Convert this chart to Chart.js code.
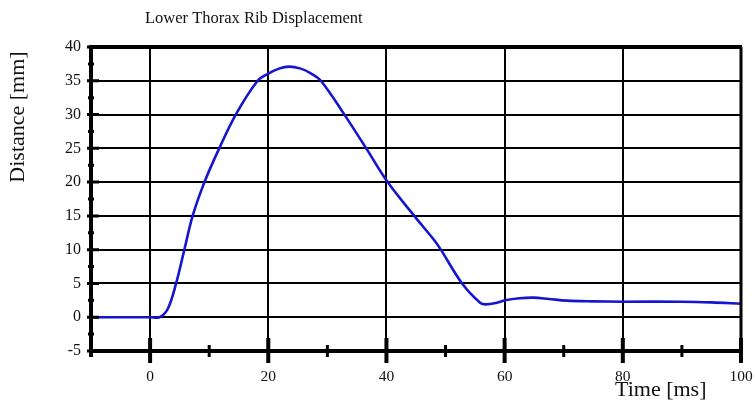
<!DOCTYPE html>
<html>
<head>
<meta charset="utf-8">
<script src="https://cdn.jsdelivr.net/npm/chart.js@4"></script>
<style>
  html, body { margin: 0; padding: 0; background: #fff; }
  #wrap { width: 755px; height: 402px; }
</style>
</head>
<body>
<div id="wrap"><canvas id="ribChart" width="755" height="402"></canvas></div>
<script>
// time [ms] and displacement [mm]
const timeMs = [-10, 0, 1.6, 3.0, 4.4, 5.8, 7.2, 9.2, 11.7, 14.5, 18.2, 20.0, 21.8, 23.5, 25.5, 27.2, 28.9, 32.8, 36.5, 40.2, 44.7, 48.0, 49.2, 52.8, 55.9, 56.8, 58.5, 60.1, 62.5, 64.9, 67.5, 70.5, 75, 80, 90, 95, 100];
const distMm = [0, 0, 0, 1.25, 5.0, 10.0, 15.0, 20.0, 25.0, 30.0, 35.0, 36.05, 36.8, 37.1, 36.8, 36.1, 35.0, 30.1, 25.1, 20.0, 15.0, 11.5, 10.0, 5.0, 2.1, 1.9, 2.1, 2.5, 2.8, 2.9, 2.7, 2.45, 2.35, 2.3, 2.3, 2.2, 2.0];

const xMajorTicks = [0, 20, 40, 60, 80, 100];
const xMinorTicks = [-10, 10, 30, 50, 70, 90];
const yTicks = [-5, 0, 5, 10, 15, 20, 25, 30, 35, 40];

const chartTitle = 'Lower Thorax Rib Displacement';
const xTitle = 'Time [ms]';
const yTitle = 'Distance [mm]';

const serif = '"Liberation Serif", "Times New Roman", serif';

// axes frame, tick marks and titles drawn on top of the plot
const framePlugin = {
  id: 'frame',
  afterDatasetsDraw(chart) {
    const ctx = chart.ctx;
    const xs = chart.scales.x, ys = chart.scales.y;
    const left = xs.getPixelForValue(-10), right = xs.getPixelForValue(100);
    const top = ys.getPixelForValue(40), bottom = ys.getPixelForValue(-5);
    ctx.save();
    ctx.strokeStyle = '#000';
    ctx.lineCap = 'butt';

    // thick left axis, bottom axis and top border
    ctx.lineWidth = 4;
    ctx.beginPath();
    ctx.moveTo(left, top - 2); ctx.lineTo(left, bottom + 6);
    ctx.moveTo(left - 2, bottom); ctx.lineTo(right + 1, bottom);
    ctx.moveTo(left - 2, top); ctx.lineTo(right + 1, top);
    ctx.stroke();
    ctx.lineWidth = 3;
    ctx.beginPath();
    ctx.moveTo(right, top); ctx.lineTo(right, bottom + 12);
    ctx.stroke();

    // y ticks: major ones to the right, minor ones at the half steps
    ctx.lineWidth = 3;
    ctx.beginPath();
    for (const v of yTicks) {
      const p = ys.getPixelForValue(v);
      ctx.moveTo(left - 4, p); ctx.lineTo(left + 8, p);
    }
    for (let i = 0; i < yTicks.length - 1; i++) {
      const p = ys.getPixelForValue((yTicks[i] + yTicks[i + 1]) / 2);
      ctx.moveTo(left - 3, p); ctx.lineTo(left + 3, p);
    }
    ctx.stroke();

    // x ticks
    ctx.lineWidth = 4;
    ctx.beginPath();
    for (const v of xMajorTicks) {
      const p = xs.getPixelForValue(v);
      ctx.moveTo(p, bottom - 13); ctx.lineTo(p, bottom + 12);
    }
    ctx.stroke();
    ctx.lineWidth = 3;
    ctx.beginPath();
    for (const v of xMinorTicks) {
      const p = xs.getPixelForValue(v);
      ctx.moveTo(p, bottom - 6); ctx.lineTo(p, bottom + 6);
    }
    ctx.stroke();

    // titles
    ctx.fillStyle = '#111';
    ctx.font = '16.5px ' + serif;
    ctx.textAlign = 'left';
    ctx.textBaseline = 'middle';
    ctx.fillText(chartTitle, 145, 19);

    ctx.font = '22px ' + serif;
    ctx.textAlign = 'left';
    ctx.textBaseline = 'alphabetic';
    ctx.fillText(xTitle, 615, 396);

    ctx.translate(18, 117);
    ctx.rotate(-Math.PI / 2);
    ctx.textAlign = 'center';
    ctx.textBaseline = 'middle';
    ctx.fillText(yTitle, 0, 0);
    ctx.restore();
  }
};

const points = timeMs.map((t, i) => ({ x: t, y: distMm[i] }));

new Chart(document.getElementById('ribChart'), {
  type: 'line',
  data: {
    datasets: [{
      label: 'Lower Thorax Rib Displacement',
      data: points,
      borderColor: '#1515cf',
      borderWidth: 2.6,
      pointRadius: 0,
      fill: false,
      tension: 0.35
    }]
  },
  options: {
    responsive: false,
    animation: false,
    layout: { padding: { top: 47, right: 0, left: 0, bottom: 0 } },
    plugins: {
      legend: { display: false },
      tooltip: { enabled: false }
    },
    scales: {
      x: {
        type: 'linear',
        min: -10,
        max: 100,
        afterFit(scale) { scale.height = 51; scale.paddingRight = 14; },
        afterBuildTicks(scale) { scale.ticks = xMajorTicks.map(v => ({ value: v })); },
        border: { display: false },
        grid: { color: '#000', lineWidth: 2, drawTicks: false },
        ticks: {
          padding: 17,
          color: '#111',
          font: { family: serif, size: 15.5 }
        }
      },
      y: {
        min: -5,
        max: 40,
        afterFit(scale) { scale.width = 91; },
        afterBuildTicks(scale) { scale.ticks = yTicks.map(v => ({ value: v })); },
        border: { display: false },
        grid: { color: '#000', lineWidth: 2, drawTicks: false },
        ticks: {
          padding: 10,
          color: '#111',
          font: { family: serif, size: 16 }
        }
      }
    }
  },
  plugins: [framePlugin]
});
</script>
</body>
</html>
